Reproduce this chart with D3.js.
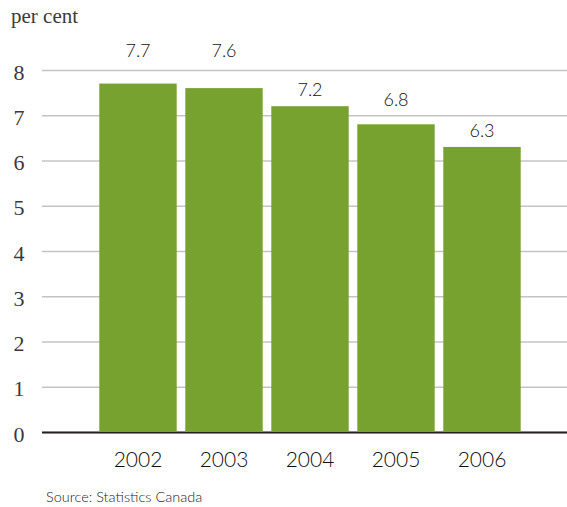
<!DOCTYPE html>
<html>
<head>
<meta charset="utf-8">
<script src="https://cdn.jsdelivr.net/npm/d3@7"></script>
<style>
  body { margin: 0; background: #fff; }
  svg { display: block; }
</style>
</head>
<body>
<div id="chart"></div>
<script>
const years = ['2002', '2003', '2004', '2005', '2006']
const values = [7.7, 7.6, 7.2, 6.8, 6.3]
const yTicks = [0, 1, 2, 3, 4, 5, 6, 7, 8]

const width = 567
const height = 507
const left = 42
const svg = d3.select('#chart')
  .append('svg')
  .attr('width', width)
  .attr('height', height)

const x = d3.scaleBand()
  .domain(years)
  .range([95, 525])
  .paddingInner(0.1)
  .paddingOuter(0.05)
const y = d3.scaleLinear().domain([0, 8]).range([432, 70])

// gridlines + y tick labels
const yAxis = svg.append('g')
  .attr('transform', `translate(${left},0)`)
  .call(d3.axisLeft(y).tickValues(yTicks).tickSize(-(width - left)).tickPadding(0).tickFormat(d3.format('d')))
yAxis.select('.domain').remove()
yAxis.selectAll('.tick line')
  .attr('stroke', '#c4c4c4')
  .attr('stroke-width', 1.6)
yAxis.selectAll('.tick text')
  .attr('x', -23)
  .attr('dy', null)
  .attr('y', 9)
  .attr('text-anchor', 'middle')
  .attr('fill', '#3a3a3a')
  .style('font-family', '"Liberation Serif", serif')
  .style('font-size', '22px')

// zero line
svg.append('line')
  .attr('x1', left)
  .attr('x2', width)
  .attr('y1', y(0) + 0.5)
  .attr('y2', y(0) + 0.5)
  .attr('stroke', '#231f20')
  .attr('stroke-width', 2)

// bars
svg.selectAll('rect.bar')
  .data(values)
  .enter()
  .append('rect')
  .attr('class', 'bar')
  .attr('x', (d, i) => x(years[i]))
  .attr('width', x.bandwidth())
  .attr('y', d => y(d))
  .attr('height', d => y(0) - y(d))
  .attr('fill', '#78a22f')

// value labels, lifted clear of a gridline if they would sit on it
function labelY (v) {
  const top = y(v)
  let base = top - 10
  yTicks.forEach(t => {
    const g = y(t)
    if (g > base - 14 && g < top) base = g - (t === 8 ? 13 : 9)
  })
  return base
}
svg.selectAll('text.val')
  .data(values)
  .enter()
  .append('text')
  .attr('class', 'val')
  .attr('x', (d, i) => x(years[i]) + x.bandwidth() / 2)
  .attr('y', d => labelY(d))
  .attr('text-anchor', 'middle')
  .attr('fill', '#111')
  .style('font-family', 'Lato, sans-serif')
  .style('font-weight', 300)
  .style('font-size', '18px')
  .text(d => d3.format('.1f')(d))

// year labels
svg.selectAll('text.year')
  .data(years)
  .enter()
  .append('text')
  .attr('class', 'year')
  .attr('x', d => x(d) + x.bandwidth() / 2)
  .attr('y', 467)
  .attr('text-anchor', 'middle')
  .attr('fill', '#111')
  .style('font-family', 'Lato, sans-serif')
  .style('font-weight', 300)
  .style('font-size', '21px')
  .text(d => d)

svg.append('text')
  .attr('x', 11)
  .attr('y', 23)
  .attr('fill', '#3a3a3a')
  .style('font-family', '"Liberation Serif", serif')
  .style('font-size', '21px')
  .text('per cent')

svg.append('text')
  .attr('x', 46)
  .attr('y', 502)
  .attr('fill', '#222')
  .style('font-family', 'Lato, sans-serif')
  .style('font-weight', 300)
  .style('font-size', '14.5px')
  .text('Source: Statistics Canada')
</script>
</body>
</html>
